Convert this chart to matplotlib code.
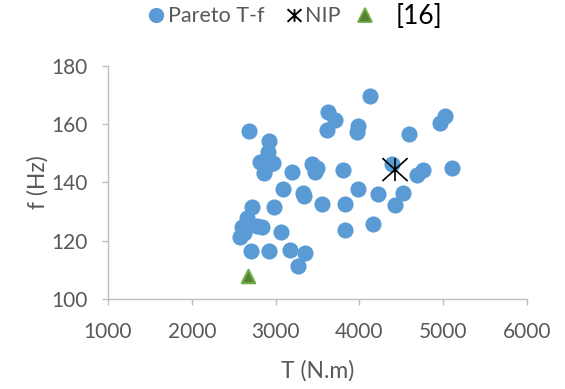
import matplotlib
matplotlib.use("Agg")
import matplotlib.pyplot as plt
from matplotlib.path import Path
from matplotlib.lines import Line2D

# Pareto front points (T in N.m, f in Hz)
pareto_T = [2683, 3625, 3709, 3614, 2922, 2910, 2813, 2933, 2862, 2963,
            3196, 3435, 3470, 3499, 3804, 3089, 3327, 3337, 3554, 3828,
            2718, 2981, 2658, 2599, 2838, 2781, 2575, 2619, 3064, 3828,
            2706, 2922, 3171, 3351, 3267, 4127, 3983, 3971, 4592, 5021,
            4962, 4389, 4687, 4759, 5105, 3983, 4222, 4520, 4424, 4162]
pareto_f = [157.5, 164.1, 161.3, 157.9, 154.1, 150.6, 146.9, 146.2, 143.4, 146.8,
            143.7, 146.2, 143.7, 144.8, 144.1, 137.9, 136.5, 135.5, 132.7, 132.7,
            131.7, 131.7, 127.9, 124.8, 124.8, 125.1, 121.3, 122.8, 123.1, 123.7,
            116.5, 116.5, 116.9, 115.8, 111.3, 169.6, 159.3, 157.2, 156.5, 162.7,
            160.3, 146.2, 142.7, 144.4, 144.8, 137.9, 136.2, 136.5, 132.4, 125.8]

nip_T = [4424]
nip_f = [144.4]

ref_T = [2671]
ref_f = [107.9]

x_ticks = [1000, 2000, 3000, 4000, 5000, 6000]
y_ticks = [100, 120, 140, 160, 180]

plt.rcParams['font.family'] = ['Lato', 'DejaVu Sans']
grey = '#595959'
axis_grey = '#BFBFBF'
blue = '#5B9BD5'

# Excel style star: X with a vertical bar
star = Path([(0, -1), (0, 1), (-1.1, -1), (1.1, 1), (-1.1, 1), (1.1, -1)],
            [Path.MOVETO, Path.LINETO] * 3)

fig = plt.figure(figsize=(5.65, 3.89), dpi=100)
ax = fig.add_axes([0.191, 0.231, 0.742, 0.600])

ax.scatter(pareto_T, pareto_f, s=135, color=blue, linewidths=0, zorder=2)
ax.scatter(nip_T, nip_f, s=330, marker=star, facecolor='none',
           edgecolor='black', linewidths=1.2, zorder=3)
ax.scatter(ref_T, ref_f, s=95, marker='^', facecolor='#548235',
           edgecolor='#70AD47', linewidths=1.5, zorder=3)

ax.set_xlim(1000, 6000)
ax.set_ylim(100, 180)
ax.set_xticks(x_ticks)
ax.set_yticks(y_ticks)
for s in ['top', 'right']:
    ax.spines[s].set_visible(False)
for s in ['left', 'bottom']:
    ax.spines[s].set_color(axis_grey)
    ax.spines[s].set_linewidth(1.0)
ax.tick_params(colors=axis_grey, labelcolor=grey, labelsize=15,
               length=4.5, width=1.0, direction='out')
ax.tick_params(axis='x', pad=12)
ax.tick_params(axis='y', pad=10)
ax.set_xlabel('T (N.m)', fontsize=16.5, color=grey, labelpad=13)
ax.set_ylabel('f (Hz)', fontsize=16.5, color=grey, labelpad=2)

# legend at the top, laid out by hand in pixel positions of the figure
W, H = 565.0, 389.0
def fx(px):
    return px / W
def fy(py):
    return 1 - py / H

fig.add_artist(Line2D([fx(156)], [fy(15)], transform=fig.transFigure,
                      marker='o', markersize=10, color=blue, linestyle='none'))
fig.text(fx(168), fy(16), 'Pareto T-f', fontsize=15.5, color=grey,
         ha='left', va='center')
fig.add_artist(Line2D([fx(294)], [fy(15)], transform=fig.transFigure,
                      marker=star, markersize=10, color='black',
                      markeredgewidth=1.4, linestyle='none'))
fig.text(fx(305), fy(16), 'NIP', fontsize=15.5, color=grey,
         ha='left', va='center')
fig.add_artist(Line2D([fx(365)], [fy(15)], transform=fig.transFigure,
                      marker='^', markersize=10, markerfacecolor='#548235',
                      markeredgecolor='#70AD47', markeredgewidth=1.3,
                      linestyle='none'))
fig.text(fx(396), fy(16), '[16]', fontsize=19, color='black',
         ha='left', va='center')

fig.savefig('out.png', dpi=100)
